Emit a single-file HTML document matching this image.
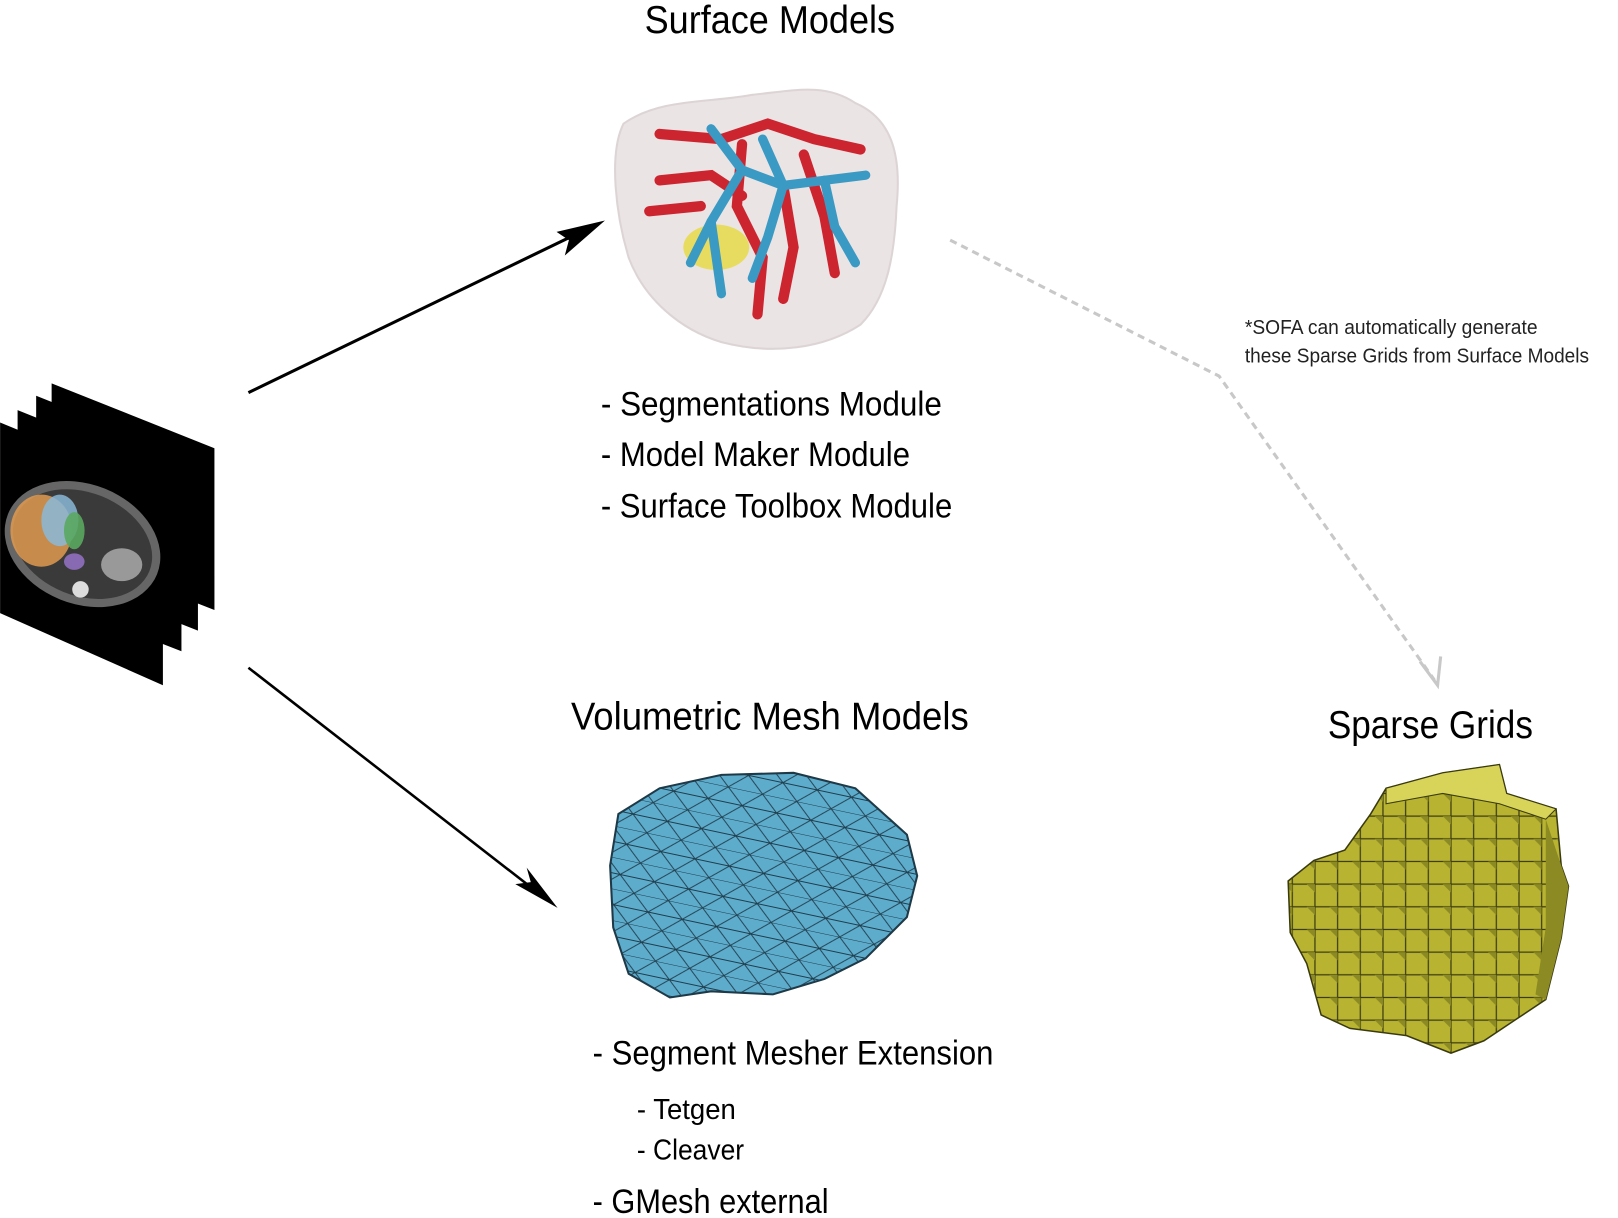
<!DOCTYPE html>
<html><head><meta charset="utf-8"><style>
html,body{margin:0;padding:0;background:#fff;}
svg{display:block;}
text{font-family:"Liberation Sans",sans-serif;}
</style></head><body>
<svg width="1618" height="1218" viewBox="0 0 1570 1182">
<defs>
<pattern id="tri" width="34" height="30" patternUnits="userSpaceOnUse" patternTransform="rotate(12)">
  <path d="M0,0 L34,0 M0,15 L34,15 M0,0 L17,15 L34,0 M0,30 L17,15 L34,30 M17,15 L0,15" stroke="#1f3d4c" stroke-width="0.9" fill="none"/>
</pattern>
<pattern id="vox" width="22" height="22" patternUnits="userSpaceOnUse">
  <rect x="0" y="0" width="22" height="22" fill="#b8b432"/>
  <rect x="0" y="0" width="22" height="22" fill="none" stroke="#3a3a10" stroke-width="1.2"/>
  <polygon points="14,0 22,0 22,8" fill="#8c8a22"/>
</pattern>
<clipPath id="meshclip"><path d="M600,790 L640,765 L700,752 L770,750 L830,765 L880,810 L890,850 L880,890 L840,930 L800,950 L750,965 L690,962 L650,968 L610,945 L595,900 L592,840 Z"/></clipPath>
</defs>

<g>
  <polygon points="50,372 208,435 208,592 50,530" fill="#000"/>
  <polygon points="35,384 192,447 192,612 35,550" fill="#000"/>
  <polygon points="17,398 176,462 176,632 17,570" fill="#000"/>
  <polygon points="0,410 158,475 158,665 0,595" fill="#000"/>
  <ellipse cx="80" cy="528" rx="78" ry="58" transform="rotate(22 80 528)" fill="#666"/>
  <ellipse cx="80" cy="528" rx="70" ry="50" transform="rotate(22 80 528)" fill="#3a3a3a"/>
  <ellipse cx="40" cy="515" rx="30" ry="35" fill="#e09a50" opacity="0.85"/>
  <ellipse cx="58" cy="505" rx="18" ry="25" fill="#8ab8d8" opacity="0.85"/>
  <ellipse cx="72" cy="515" rx="10" ry="18" fill="#5aa860" opacity="0.9"/>
  <ellipse cx="72" cy="545" rx="10" ry="8" fill="#9070c0" opacity="0.9"/>
  <circle cx="78" cy="572" r="8" fill="#ddd"/>
  <ellipse cx="118" cy="548" rx="20" ry="16" fill="#999"/>
</g>

<g>
  <line x1="241" y1="381" x2="570" y2="222" stroke="#000" stroke-width="3"/>
  <polygon points="587,214 540,225 552,233 548,248" fill="#000"/>
</g>
<g>
  <line x1="241" y1="648" x2="528" y2="871" stroke="#000" stroke-width="2.5"/>
  <polygon points="541,881 511,842 515,856 500,858" fill="#000"/>
</g>

<text x="747" y="32" text-anchor="middle" font-size="38" textLength="243" lengthAdjust="spacingAndGlyphs">Surface Models</text>
<g>
  <path d="M605,120 C640,95 690,100 730,92 C770,88 800,80 830,100 C865,115 875,150 870,200 C868,250 860,290 835,315 C800,338 750,345 700,332 C660,320 625,290 610,250 C598,210 590,150 605,120 Z" fill="#ebe4e4" stroke="#ddd5d5" stroke-width="2"/>
  <ellipse cx="695" cy="240" rx="32" ry="22" fill="#e8dc60"/>
  <g stroke="#cc2530" stroke-width="10" fill="none" stroke-linecap="round">
    <path d="M640,130 L700,135 L745,120 L790,135 L835,145"/>
    <path d="M720,140 L715,200 L740,250 L735,305"/>
    <path d="M780,150 L800,210 L810,265"/>
    <path d="M640,175 L690,170 L720,190"/>
    <path d="M630,205 L680,200"/>
    <path d="M760,180 L770,240 L760,290"/>
  </g>
  <g stroke="#3b9ac4" stroke-width="9" fill="none" stroke-linecap="round">
    <path d="M690,125 L720,165 L760,180 L800,175 L840,170"/>
    <path d="M760,180 L745,230 L730,270"/>
    <path d="M720,165 L690,215 L670,255"/>
    <path d="M800,175 L810,220 L830,255"/>
    <path d="M740,135 L760,180"/>
    <path d="M690,215 L700,285"/>
  </g>
</g>
<g font-size="33">
  <text x="583" y="403" textLength="331" lengthAdjust="spacingAndGlyphs">- Segmentations Module</text>
  <text x="583" y="452" textLength="300" lengthAdjust="spacingAndGlyphs">- Model Maker Module</text>
  <text x="583" y="502" textLength="341" lengthAdjust="spacingAndGlyphs">- Surface Toolbox Module</text>
</g>

<g>
  <polyline points="922,233 1183,365 1392,660" fill="none" stroke="#c8c8c8" stroke-width="3" stroke-dasharray="7,5"/>
  <polyline points="1378,642 1395,665 1398,637" fill="none" stroke="#c8c8c8" stroke-width="3"/>
</g>
<g font-size="20" fill="#222">
  <text x="1208" y="324" textLength="284" lengthAdjust="spacingAndGlyphs">*SOFA can automatically generate</text>
  <text x="1208" y="352" textLength="334" lengthAdjust="spacingAndGlyphs">these Sparse Grids from Surface Models</text>
</g>

<text x="747" y="708" text-anchor="middle" font-size="38" textLength="386" lengthAdjust="spacingAndGlyphs">Volumetric Mesh Models</text>
<g>
  <path d="M600,790 L640,765 L700,752 L770,750 L830,765 L880,810 L890,850 L880,890 L840,930 L800,950 L750,965 L690,962 L650,968 L610,945 L595,900 L592,840 Z" fill="#5eaccc"/>
  <rect x="580" y="740" width="320" height="240" fill="url(#tri)" clip-path="url(#meshclip)"/>
  <path d="M600,790 L640,765 L700,752 L770,750 L830,765 L880,810 L890,850 L880,890 L840,930 L800,950 L750,965 L690,962 L650,968 L610,945 L595,900 L592,840 Z" fill="none" stroke="#1e3a48" stroke-width="2"/>
</g>
<g font-size="33">
  <text x="575" y="1033" textLength="389" lengthAdjust="spacingAndGlyphs">- Segment Mesher Extension</text>
  <text x="618" y="1086" font-size="28" textLength="96" lengthAdjust="spacingAndGlyphs">- Tetgen</text>
  <text x="618" y="1125" font-size="28" textLength="104" lengthAdjust="spacingAndGlyphs">- Cleaver</text>
  <text x="575" y="1177" textLength="229" lengthAdjust="spacingAndGlyphs">- GMesh external</text>
</g>

<text x="1388" y="716" text-anchor="middle" font-size="38" textLength="199" lengthAdjust="spacingAndGlyphs">Sparse Grids</text>
<g>
  <path d="M1345,765 L1400,750 L1455,742 L1462,770 L1510,785 L1515,840 L1522,860 L1515,910 L1500,970 L1470,990 L1440,1010 L1408,1022 L1365,1005 L1310,998 L1282,985 L1268,935 L1252,905 L1250,855 L1275,835 L1305,825 L1330,790 Z" fill="url(#vox)" stroke="#3a3a10" stroke-width="1.5"/>
  <path d="M1345,765 L1400,750 L1455,742 L1462,770 L1510,785 L1500,795 L1455,780 L1400,770 L1345,780 Z" fill="#d8d45a" stroke="#3a3a10" stroke-width="1"/>
  <path d="M1500,795 L1515,840 L1522,860 L1515,910 L1500,970 L1490,965 L1500,900 L1500,840 Z" fill="#8c8a22"/>
</g>
</svg>
</body></html>
